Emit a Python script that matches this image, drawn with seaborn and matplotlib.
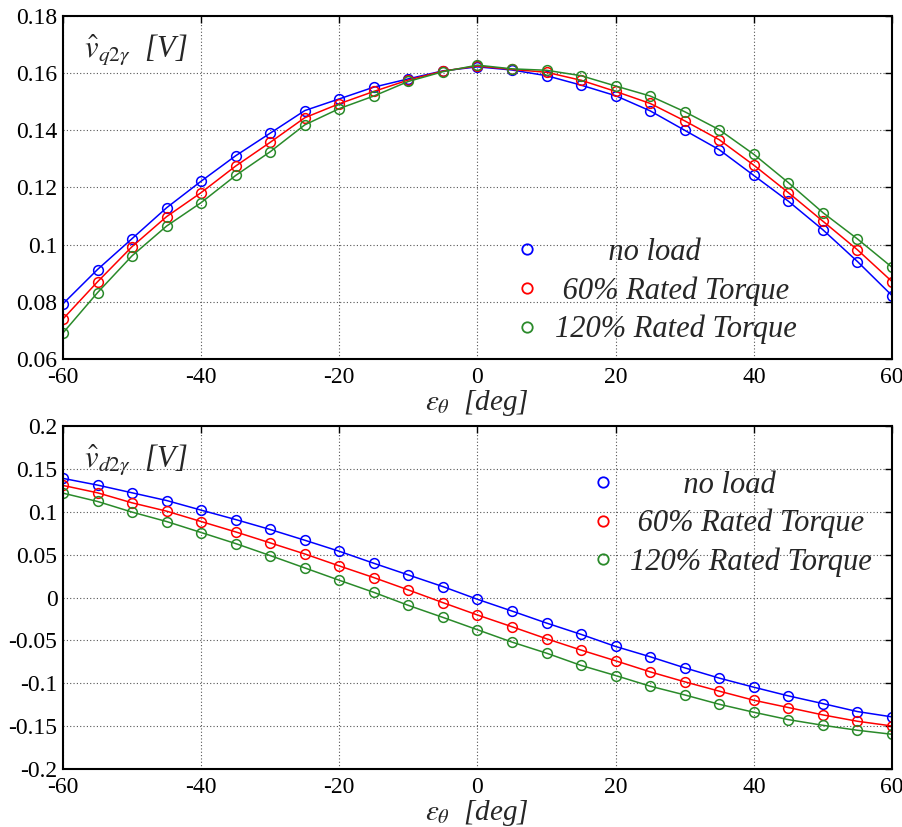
import numpy as np
import pandas as pd
import seaborn as sns
import matplotlib
matplotlib.use("Agg")
import matplotlib.pyplot as plt
from matplotlib.lines import Line2D

# ---- data ----
angles = [-60, -55, -50, -45, -40, -35, -30, -25, -20, -15, -10, -5,
          0, 5, 10, 15, 20, 25, 30, 35, 40, 45, 50, 55, 60]
series_names = ["no load", "60% Rated Torque", "120% Rated Torque"]

vq_noload = [0.0793, 0.0913, 0.1021, 0.1129, 0.1222, 0.1311, 0.1390, 0.1469, 0.1510, 0.1551, 0.1580, 0.1608,
             0.1622, 0.1611, 0.1591, 0.1558, 0.1521, 0.1468, 0.1400, 0.1332, 0.1242, 0.1152, 0.1052, 0.0941, 0.0822]
vq_60 = [0.0740, 0.0870, 0.0993, 0.1098, 0.1182, 0.1275, 0.1358, 0.1444, 0.1493, 0.1536, 0.1576, 0.1607,
         0.1625, 0.1613, 0.1603, 0.1575, 0.1536, 0.1494, 0.1433, 0.1367, 0.1278, 0.1182, 0.1082, 0.0982, 0.0871]
vq_120 = [0.0691, 0.0832, 0.0961, 0.1065, 0.1147, 0.1242, 0.1325, 0.1419, 0.1476, 0.1520, 0.1571, 0.1605,
          0.1628, 0.1615, 0.1610, 0.1591, 0.1555, 0.1520, 0.1465, 0.1402, 0.1316, 0.1217, 0.1112, 0.1020, 0.0921]

vd_noload = [0.1389, 0.1311, 0.1221, 0.1131, 0.1019, 0.0909, 0.0793, 0.0668, 0.0539, 0.0399, 0.0263, 0.0127,
             -0.0021, -0.0158, -0.0298, -0.0430, -0.0571, -0.0691, -0.0820, -0.0940, -0.1046, -0.1147, -0.1237, -0.1330, -0.1392]
vd_60 = [0.1307, 0.1221, 0.1104, 0.1007, 0.0886, 0.0765, 0.0637, 0.0508, 0.0368, 0.0232, 0.0088, -0.0060,
         -0.0204, -0.0341, -0.0481, -0.0613, -0.0738, -0.0867, -0.0983, -0.1092, -0.1198, -0.1283, -0.1369, -0.1443, -0.1498]
vd_120 = [0.1217, 0.1120, 0.0996, 0.0886, 0.0758, 0.0629, 0.0489, 0.0345, 0.0201, 0.0060, -0.0092, -0.0232,
          -0.0376, -0.0520, -0.0649, -0.0792, -0.0910, -0.1034, -0.1136, -0.1245, -0.1338, -0.1424, -0.1490, -0.1548, -0.1595]

x_ticks = [-60, -40, -20, 0, 20, 40, 60]
x_ticklabels = ["-60", "-40", "-20", "0", "20", "40", "60"]
yq_ticks = [0.06, 0.08, 0.10, 0.12, 0.14, 0.16, 0.18]
yq_ticklabels = ["0.06", "0.08", "0.1", "0.12", "0.14", "0.16", "0.18"]
yd_ticks = [-0.2, -0.15, -0.1, -0.05, 0.0, 0.05, 0.1, 0.15, 0.2]
yd_ticklabels = ["-0.2", "-0.15", "-0.1", "-0.05", "0", "0.05", "0.1", "0.15", "0.2"]

colors = ["#0000ff", "#ff0000", "#2a8a2a"]

# ---- style ----
sns.set_style("white")
plt.rcParams["font.family"] = ["Liberation Serif", "DejaVu Serif"]
plt.rcParams["mathtext.fontset"] = "stix"

def make_df(a, b, c):
    frames = []
    for name, vals in zip(series_names, [a, b, c]):
        frames.append(pd.DataFrame({"angle": angles, "value": vals, "load": name}))
    return pd.concat(frames, ignore_index=True)

df_q = make_df(vq_noload, vq_60, vq_120)
df_d = make_df(vd_noload, vd_60, vd_120)

fig = plt.figure(figsize=(9.02, 8.27), dpi=100)
ax1 = fig.add_axes([0.0698, 0.5659, 0.9191, 0.4148])
ax2 = fig.add_axes([0.0698, 0.0701, 0.9191, 0.4148])

def draw(ax, df, yticks, yticklabels, ylabel, legend_anchor, labels_padded):
    sns.lineplot(data=df, x="angle", y="value", hue="load", palette=colors,
                 marker="o", markersize=7, markerfacecolor="none", markeredgewidth=1.1,
                 linewidth=1.1, legend=False, ax=ax)
    for ln, c in zip(ax.lines, colors):
        ln.set_markeredgecolor(c)
    ax.set_xlim(-60, 60)
    ax.set_ylim(yticks[0], yticks[-1])
    ax.set_xticks(x_ticks)
    ax.set_xticklabels(x_ticklabels)
    ax.set_yticks(yticks)
    ax.set_yticklabels(yticklabels)
    ax.tick_params(direction="in", top=True, right=True, length=5, width=1,
                   labelsize=17, pad=4, colors="black")
    ax.tick_params(axis="x", pad=6)
    ax.grid(True, linestyle=(0, (1, 2)), color="#555555", linewidth=0.8)
    for sp in ax.spines.values():
        sp.set_color("black")
        sp.set_linewidth(1.5)
        sp.set_visible(True)
    ax.set_xlabel(r"$\varepsilon_\theta$  [deg]", fontsize=21, style="italic", labelpad=0)
    ax.set_ylabel("")
    ax.text(0.025, 0.95, ylabel, transform=ax.transAxes, fontsize=22,
            style="italic", ha="left", va="top")
    handles = [Line2D([], [], marker="o", linestyle="none", markerfacecolor="none",
                      markeredgecolor=c, markersize=7.5, markeredgewidth=1.3) for c in colors]
    ax.legend(handles, labels_padded, loc="upper left", bbox_to_anchor=legend_anchor,
              frameon=False, prop={"family": "Liberation Serif", "style": "italic", "size": 22},
              handletextpad=0.4, labelspacing=0.3, handlelength=1.0, borderpad=0.2)

labels_pad = ["       no load", " 60% Rated Torque", "120% Rated Torque"]
draw(ax1, df_q, yq_ticks, yq_ticklabels, r"$\hat{v}_{q2\gamma}$  [V]", (0.516, 0.415), labels_pad)
draw(ax2, df_d, yd_ticks, yd_ticklabels, r"$\hat{v}_{d2\gamma}$  [V]", (0.6066, 0.932), labels_pad)

fig.savefig("out.png", dpi=100)
